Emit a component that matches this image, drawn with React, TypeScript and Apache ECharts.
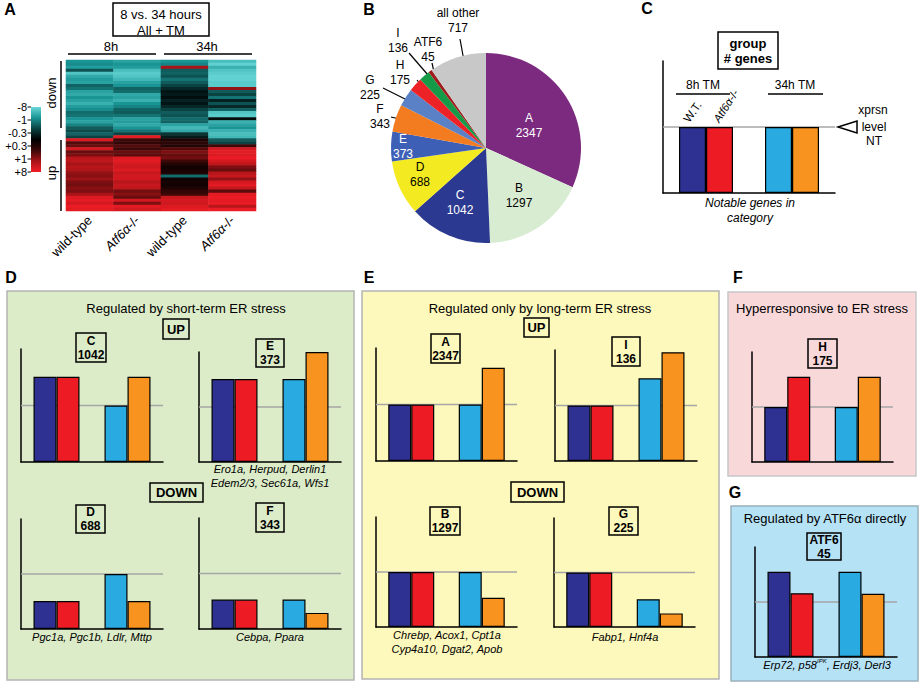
import React, { useEffect, useRef } from "react";
import * as echarts from "echarts";

const FONT = '"Liberation Sans", Arial, Helvetica, sans-serif';

// ---------------- Panel A: heatmap (level units: -3 ≈ -8, -2 ≈ -1, -1 ≈ -0.3, 0, +1 ≈ +0.3, +2 ≈ +1, +3 ≈ +8)
const heatColumnLabels = ["wild-type", "Atf6α-/-", "wild-type", "Atf6α-/-"];
const heatColumnKeys = ["wt8", "ko8", "wt34", "ko34"];
const heatGroupLabels = ["8h", "34h"];
const colorScaleLabels = ["-8", "-1", "-0.3", "+0.3", "+1", "+8"];

const heatWT8 = [
  -2.0, -1.9, -2.1, -1.2, -2.7, -2.3, -2.1, -2.2, -1.4, -1.6,
  -2.2, -2.3, -2.0, -2.2, -2.4, -2.1, -1.9, -1.5, -1.6, -2.0,
  -2.2, -1.8, -1.3, -1.1, -1.4, -1.0, 2.7, 1.2, 1.4, 2.6,
  1.4, 1.6, 2.2, 2.3, 2.0, 2.2, 2.1, 1.8, 1.7, 1.9,
  1.6, 1.5, 1.7, 1.6, 2.0, 2.7, 2.8, 2.6, 2.9, 2.8,
];
const heatKO8 = [
  -2.2, -2.0, -2.1, -2.6, -2.8, -2.7, -2.5, -2.2, -2.0, -1.4,
  -1.5, -2.3, -2.2, -2.4, -2.0, -1.8, -1.4, -1.3, -1.6, -2.2,
  -2.1, -2.3, -2.0, -1.6, -1.0, 2.8, 1.0, 0.8, 1.2, 1.0,
  1.4, 1.3, 2.7, 2.8, 2.6, 2.5, 2.7, 2.4, 2.6, 2.5,
  2.2, 2.4, 2.3, 1.5, 1.7, 1.4, 2.6, 1.6, 2.8, 2.6,
];
const heatWT34 = [
  -2.0, -1.8, 2.0, -1.3, -1.4, -1.2, -1.6, -1.3, -1.0, -0.6,
  -0.3, -0.4, -0.2, -0.5, -0.3, -0.6, -1.0, -1.3, -1.2, -1.5,
  -1.4, -2.2, -2.5, -2.3, -0.8, -0.4, 0.5, 0.7, 0.6, 1.2,
  1.6, 1.4, 1.5, 1.0, 0.6, 0.3, 0.4, 0.5, -1.5, 0.2,
  0.4, 0.3, 0.5, 0.8, 1.0, 2.4, 2.6, 2.5, 2.7, 2.8,
];
const heatKO34 = [
  -2.6, -2.9, -2.4, -2.7, -2.8, -2.9, -2.9, -2.8, -2.8, 1.8,
  -1.3, -1.0, -1.6, -0.5, -1.2, -0.6, -1.4, -2.7, -2.8, -0.2,
  -2.4, -2.2, -2.0, -2.4, -2.6, -2.5, -1.3, -1.0, 1.0, 2.6,
  2.8, 2.7, 2.9, 2.6, 2.3, 1.6, 1.4, 2.2, 2.4, 1.8,
  2.6, 2.8, 2.4, 1.3, 2.8, 2.9, 2.8, 2.9, 2.2, 2.9,
];

// ---------------- Panel B: pie
const pieNames = ["A", "B", "C", "D", "E", "F", "G", "H", "I", "ATF6", "all other"];
const pieValues = [2347, 1297, 1042, 688, 373, 343, 225, 175, 136, 45, 717];

// ---------------- Bar panels: [8h W.T., 8h Atf6α-/-, 34h W.T., 34h Atf6α-/-], relative to NT = 1
const barGroupLabels = ["8h TM", "34h TM"];
const barSeriesLabels = ["W.T.", "Atf6α-/-"];
const ntLevel = 1;
const legendBars = [1, 1, 1, 1];
const groupC = [1.51, 1.51, 1.0, 1.51];
const groupE = [1.51, 1.51, 1.51, 2.0];
const groupD = [0.51, 0.51, 1.0, 0.51];
const groupF = [0.53, 0.53, 0.53, 0.29];
const groupA = [1.0, 1.0, 1.0, 1.65];
const groupI = [1.0, 1.0, 1.49, 1.96];
const groupB = [1.0, 1.0, 1.0, 0.53];
const groupG = [1.0, 1.0, 0.51, 0.25];
const groupH = [1.0, 1.55, 1.0, 1.55];
const groupATF6 = [1.55, 1.16, 1.55, 1.15];

const genesE = ["Ero1a, Herpud, Derlin1", "Edem2/3, Sec61a, Wfs1"];
const genesD = ["Pgc1a, Pgc1b, Ldlr, Mttp"];
const genesF = ["Cebpa, Ppara"];
const genesB = ["Chrebp, Acox1, Cpt1a", "Cyp4a10, Dgat2, Apob"];
const genesG = ["Fabp1, Hnf4a"];

// ---------------- styles
const BAR_COLORS = ["#2e3192", "#ed1c24", "#29abe2", "#f7931e"];
const HEAT_COLORS = ["#6ad8d8", "#1a9595", "#0b4242", "#000000", "#3c0808", "#a81418", "#f21d26"];
const PIE_COLORS = ["#7b2a7f", "#d8ecd2", "#2b3990", "#f4ea22", "#3d5fb6", "#f47c20", "#5a80c6", "#ec2227", "#159a48", "#a01c1c", "#c8c8c8"];
const PIE_INSIDE = [true, true, true, true, true, false, false, false, false, false, false];
const PIE_LABEL_COLORS = ["#fff", "#000", "#fff", "#000", "#fff", "#000", "#000", "#000", "#000", "#000", "#000"];
const PIE_LABEL_POS = [[529, 125], [519, 195], [460, 202], [420, 174], [403, 146], [380, 116], [370, 87], [400, 72], [398, 40], [428, 49], [458, 20]];
const PIE_LEADERS: (number[][] | null)[] = [null, null, null, null, null,
  [[404, 120], [391, 117]], [[409, 101], [383, 88]], [[421, 85], [417, 80]],
  [[428, 75], [409, 53]], [[434, 72], [432, 63]], [[466, 72], [460, 39]]];

const T = (x: number, y: number, text: string, o: any = {}) => ({
  type: "text", x, y, z: 20, rotation: o.rotation || 0,
  style: {
    text, fill: o.color || "#000", fontSize: o.size || 12, fontFamily: FONT,
    fontWeight: o.bold ? "bold" : "normal", fontStyle: o.italic ? "italic" : "normal",
    align: o.align || "center", verticalAlign: o.va || "middle",
    lineHeight: o.lh, rich: o.rich,
  },
});
const R = (x1: number, y1: number, x2: number, y2: number, o: any = {}) => ({
  type: "rect", z: o.z ?? 20,
  shape: { x: x1, y: y1, width: x2 - x1, height: y2 - y1 },
  style: { fill: o.fill || "none", stroke: o.stroke || "#000", lineWidth: o.lw ?? 1.5 },
});
const L = (x1: number, y1: number, x2: number, y2: number, o: any = {}) => ({
  type: "line", z: 20, shape: { x1, y1, x2, y2 },
  style: { stroke: o.stroke || "#000", lineWidth: o.lw ?? 1.5 },
});
const groupBox = (x1: number, y1: number, x2: number, y2: number, idx: number) => [
  R(x1, y1, x2, y2),
  T((x1 + x2) / 2, (y1 + y2) / 2, `${pieNames[idx]}\n${pieValues[idx]}`, { bold: true, size: 12, lh: 14 }),
];
const geneText = (cx: number, y: number, lines: string[]) =>
  lines.map((s, i) => T(cx, y + i * 14, s, { italic: true, size: 11 }));

type Mini = { vals: number[]; l: number; t: number; r: number; b: number; bw: number };
const MINIS: Mini[] = [
  { vals: legendBars, l: 663, t: 61, r: 835, b: 193, bw: 27 },
  { vals: groupC, l: 21, t: 349, r: 163, b: 462, bw: 23 },
  { vals: groupE, l: 199, t: 352, r: 341, b: 462, bw: 23 },
  { vals: groupD, l: 21, t: 519, r: 163, b: 629, bw: 23 },
  { vals: groupF, l: 199, t: 518, r: 341, b: 629, bw: 23 },
  { vals: groupA, l: 376, t: 348, r: 517, b: 461, bw: 23 },
  { vals: groupI, l: 555, t: 350, r: 697, b: 461, bw: 23 },
  { vals: groupB, l: 376, t: 517, r: 517, b: 627, bw: 23 },
  { vals: groupG, l: 554, t: 518, r: 695, b: 627, bw: 23 },
  { vals: groupH, l: 752, t: 352, r: 893, b: 462, bw: 23 },
  { vals: groupATF6, l: 755, t: 547, r: 897, b: 657, bw: 23 },
];

function buildOption() {
  const grids: any[] = [];
  const xAxes: any[] = [];
  const yAxes: any[] = [];
  const series: any[] = [];

  // heatmap
  const heatCols = [heatWT8, heatKO8, heatWT34, heatKO34];
  const rowKeys = heatWT8.map((_, i) => String(i));
  const heatData: number[][] = [];
  heatCols.forEach((col, c) => col.forEach((v, r) => heatData.push([c, r, v])));
  grids.push({ left: 66, top: 60, width: 190, height: 151 });
  xAxes.push({
    type: "category", gridIndex: 0, data: heatColumnKeys,
    axisLine: { show: false }, axisTick: { show: false },
    axisLabel: {
      rotate: 45, margin: 7, fontSize: 13, color: "#000", fontFamily: FONT,
      formatter: (_v: string, i: number) =>
        heatColumnLabels[i].startsWith("Atf6") ? "{i|Atf6α}-/-" : heatColumnLabels[i],
      rich: { i: { fontStyle: "italic", fontSize: 13, fontFamily: FONT, color: "#000" } },
    },
  });
  yAxes.push({ type: "category", gridIndex: 0, data: rowKeys, inverse: true, show: false });
  series.push({
    type: "heatmap", xAxisIndex: 0, yAxisIndex: 0, data: heatData,
    itemStyle: { borderWidth: 0 }, emphasis: { disabled: true },
  });

  // pie
  series.push({
    type: "pie", center: [486, 148], radius: [0, 95], startAngle: 90, clockwise: true,
    avoidLabelOverlap: false, silent: true,
    data: pieNames.map((n, i) => ({
      name: n, value: pieValues[i],
      itemStyle: { color: PIE_COLORS[i] },
      label: { position: PIE_INSIDE[i] ? "inside" : "outside", color: PIE_LABEL_COLORS[i] },
      labelLine: { show: !PIE_INSIDE[i] },
    })),
    itemStyle: { borderWidth: 0 },
    label: { show: true, formatter: "{b}\n{c}", fontSize: 12, lineHeight: 15, fontFamily: FONT, color: "#000" },
    labelLine: { show: true, length: 6, length2: 6, lineStyle: { color: "#000", width: 1.2 } },
    labelLayout: (p: any) => {
      const i = p.dataIndex;
      const pos = PIE_LABEL_POS[i];
      const res: any = { x: pos[0], y: pos[1], align: "center", verticalAlign: "middle" };
      const ld = PIE_LEADERS[i];
      if (ld) {
        res.labelLinePoints = [ld[0], [(ld[0][0] + ld[1][0]) / 2, (ld[0][1] + ld[1][1]) / 2], ld[1]];
      }
      return res;
    },
  });

  // mini bar charts
  MINIS.forEach((m) => {
    const g = grids.length;
    grids.push({ left: m.l, top: m.t, width: m.r - m.l, height: m.b - m.t });
    const xc = xAxes.length;
    xAxes.push({
      type: "category", gridIndex: g, data: barGroupLabels, position: "bottom",
      axisLine: { show: true, onZero: false, lineStyle: { color: "#000", width: 1.5 } },
      axisTick: { show: false }, axisLabel: { show: false }, splitLine: { show: false },
    });
    const xv = xAxes.length;
    xAxes.push({ type: "value", gridIndex: g, min: 0, max: 1, show: false });
    const yi = yAxes.length;
    yAxes.push({
      type: "value", gridIndex: g, min: 0, max: 2,
      axisLine: { show: true, onZero: false, lineStyle: { color: "#000", width: 1.5 } },
      axisTick: { show: false }, axisLabel: { show: false }, splitLine: { show: false },
    });
    series.push({
      type: "line", xAxisIndex: xv, yAxisIndex: yi, data: [[0, ntLevel], [1, ntLevel]],
      symbol: "none", z: 1, silent: true, lineStyle: { color: "#a6a6a6", width: 1.3 },
    });
    [0, 1].forEach((s) => {
      series.push({
        type: "bar", name: barSeriesLabels[s], xAxisIndex: xc, yAxisIndex: yi,
        barWidth: m.bw, barGap: "0%", z: 3, silent: true,
        itemStyle: { borderColor: "#000", borderWidth: 1.2 },
        data: [
          { value: m.vals[s], itemStyle: { color: BAR_COLORS[s] } },
          { value: m.vals[s + 2], itemStyle: { color: BAR_COLORS[s + 2] } },
        ],
      });
    });
  });

  const gradient = new echarts.graphic.LinearGradient(0, 0, 0, 1,
    HEAT_COLORS.map((c, i) => ({ offset: i / (HEAT_COLORS.length - 1), color: c })));

  const atfRich = { i: { fontStyle: "italic", fontSize: 11, fontFamily: FONT, fill: "#000" } };

  const elements: any[] = [
    // panel letters
    T(10, 9, "A", { bold: true, size: 16 }),
    T(369, 9, "B", { bold: true, size: 16 }),
    T(647, 8, "C", { bold: true, size: 16 }),
    T(11, 277, "D", { bold: true, size: 16 }),
    T(369, 277, "E", { bold: true, size: 16 }),
    T(738, 277, "F", { bold: true, size: 16 }),
    T(735, 492, "G", { bold: true, size: 16 }),

    // panel A
    R(113, 3, 209, 36),
    T(161, 14, "8 vs. 34 hours", { size: 13 }),
    T(161, 30, "All + TM", { size: 13 }),
    T(111, 46, heatGroupLabels[0], { size: 13 }),
    L(68, 54, 156, 54),
    T(207, 46, heatGroupLabels[1], { size: 13 }),
    L(164, 54, 252, 54),
    L(61, 61, 61, 128),
    L(61, 140, 61, 211),
    T(51, 93, "down", { size: 13, rotation: Math.PI / 2 }),
    T(51, 173, "up", { size: 13, rotation: Math.PI / 2 }),
    { type: "rect", z: 20, shape: { x: 31, y: 107, width: 10, height: 65 }, style: { fill: gradient } },
    ...colorScaleLabels.flatMap((s, i) => [
      T(27, 107 + i * 13, s, { size: 11, align: "right" }),
      L(27.5, 107 + i * 13, 31, 107 + i * 13, { lw: 1 }),
    ]),

    // panel C legend
    R(718, 32, 778, 69),
    T(748, 43, "group", { bold: true, size: 13 }),
    T(748, 58, "# genes", { bold: true, size: 13 }),
    T(703, 85, barGroupLabels[0], { size: 12 }),
    L(676, 94, 730, 94),
    T(795, 85, barGroupLabels[1], { size: 12 }),
    L(768, 94, 823, 94),
    T(686, 121, barSeriesLabels[0], { size: 11.5, align: "left", rotation: (55 * Math.PI) / 180 }),
    T(716, 121, "{i|Atf6α}-/-", { size: 11, align: "left", rotation: (57 * Math.PI) / 180, rich: atfRich }),
    { type: "polygon", z: 20, shape: { points: [[838, 127], [857, 121], [857, 133]] }, style: { fill: "#fff", stroke: "#000", lineWidth: 1.5 } },
    T(873, 110, "xprsn", { size: 12 }),
    T(874, 127, "level", { size: 12 }),
    T(874, 141, "NT", { size: 12 }),
    T(750, 203, "Notable genes in", { size: 12, italic: true }),
    T(750, 218, "category", { size: 12, italic: true }),

    // panel backgrounds
    R(7, 291, 354, 680, { fill: "#dcecc8", stroke: "#b4b4b4", lw: 1.5, z: -5 }),
    R(362, 291, 719, 679, { fill: "#fdf8bb", stroke: "#b4b4b4", lw: 1.5, z: -5 }),
    R(728, 292, 916, 476, { fill: "#f9d8da", stroke: "#c8c8c8", lw: 1.5, z: -5 }),
    R(731, 506, 918, 681, { fill: "#b5e2f5", stroke: "#9ab0bc", lw: 1.5, z: -5 }),

    // panel D
    T(186, 308, "Regulated by short-term ER stress", { size: 13 }),
    R(163, 319, 189, 339), T(176, 329, "UP", { bold: true, size: 13 }),
    R(150, 483, 203, 502), T(176.5, 492.5, "DOWN", { bold: true, size: 13 }),
    ...groupBox(76, 333, 106, 362, 2),
    ...groupBox(256, 339, 284, 367, 4),
    ...groupBox(76, 505, 105, 533, 3),
    ...groupBox(256, 503, 284, 532, 5),
    ...geneText(270, 469, genesE),
    ...geneText(92, 637, genesD),
    ...geneText(270, 637, genesF),

    // panel E
    T(540, 308, "Regulated only by long-term ER stress", { size: 13 }),
    R(524, 318, 549, 337), T(536.5, 327.5, "UP", { bold: true, size: 13 }),
    R(511, 482, 564, 502), T(537.5, 492, "DOWN", { bold: true, size: 13 }),
    ...groupBox(431, 334, 460, 363, 0),
    ...groupBox(612, 337, 640, 366, 8),
    ...groupBox(430, 507, 460, 535, 1),
    ...groupBox(609, 507, 638, 535, 6),
    ...geneText(447, 635, genesB),
    ...geneText(625, 637, genesG),

    // panel F
    T(822, 308, "Hyperresponsive to ER stress", { size: 13 }),
    ...groupBox(808, 339, 837, 368, 7),

    // panel G
    T(825, 518, "Regulated by ATF6α directly", { size: 13 }),
    R(807, 533, 841, 560),
    T(824, 546.5, `${pieNames[9]}\n${pieValues[9]}`, { bold: true, size: 12, lh: 14 }),
    T(827, 665, "{i|Erp72, p58}{s|IPK}{i|, Erdj3, Derl3}", {
      size: 11, italic: true,
      rich: {
        i: { fontStyle: "italic", fontSize: 11, fontFamily: FONT, fill: "#000" },
        s: { fontStyle: "italic", fontSize: 6, fontFamily: FONT, fill: "#000", verticalAlign: "top", lineHeight: 14 },
      },
    }),
  ];

  return {
    animation: false,
    textStyle: { fontFamily: FONT },
    grid: grids,
    xAxis: xAxes,
    yAxis: yAxes,
    visualMap: {
      type: "continuous", min: -3, max: 3, show: false, seriesIndex: 0, dimension: 2,
      inRange: { color: HEAT_COLORS },
    },
    series,
    graphic: { elements },
  };
}

export default function App() {
  const ref = useRef<HTMLDivElement>(null);
  useEffect(() => {
    if (!ref.current) return;
    const chart = echarts.init(ref.current, undefined, { renderer: "svg" });
    chart.setOption(buildOption() as any);
    return () => chart.dispose();
  }, []);
  return (
    <div
      ref={ref}
      style={{ position: "absolute", left: 0, top: 0, width: 921, height: 684, background: "#fff" }}
    />
  );
}
